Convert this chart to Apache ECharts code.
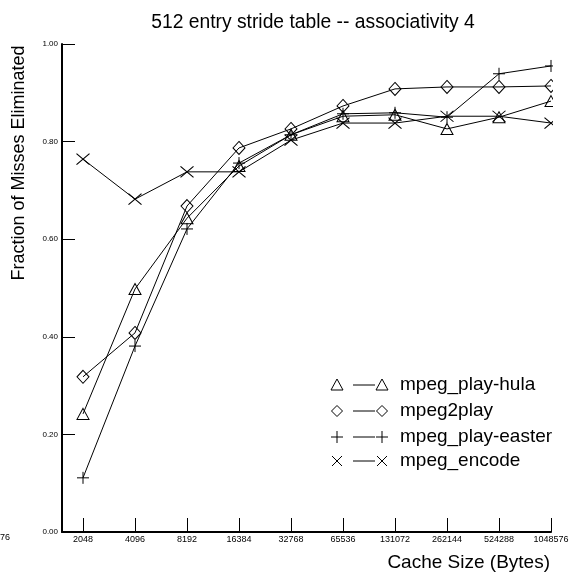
<!DOCTYPE html>
<html><head><meta charset="utf-8">
<script src="https://cdn.jsdelivr.net/npm/echarts@6/dist/echarts.min.js"></script>
<style>html,body{margin:0;padding:0;background:#fff}#c{width:573px;height:575px}</style>
</head><body><div id="c"></div>
<script>
const categories = ['2048','4096','8192','16384','32768','65536','131072','262144','524288','1048576'];
const seriesNames = ['mpeg_play-hula','mpeg2play','mpeg_play-easter','mpeg_encode'];
const hula      = [0.242,0.498,0.643,0.750,0.814,0.852,0.855,0.826,0.850,0.883];
const mpeg2play = [0.318,0.408,0.668,0.787,0.826,0.873,0.908,0.912,0.912,0.914];
const easter    = [0.111,0.381,0.621,0.756,0.814,0.857,0.859,0.850,0.939,0.955];
const encode    = [0.764,0.682,0.738,0.738,0.803,0.838,0.838,0.852,0.852,0.838];
const yTicks = [0,0.2,0.4,0.6,0.8,1.0];

const FONT = 'Liberation Sans, Arial, sans-serif';
const symbols = [
  {symbol:'triangle', size:[12,11]},
  {symbol:'diamond', size:[12,13]},
  {symbol:'path://M0,6L12,6M6,0L6,12', size:[12,12]},
  {symbol:'path://M0,0L12,10M12,0L0,10', size:[13,11]}
];
const values = [hula, mpeg2play, easter, encode];
const idx = categories.map((c,i)=>i);

const series = values.map((vals,k)=>({
  name: seriesNames[k],
  type:'line',
  data: vals.map((v,i)=>[i,v]),
  symbol: symbols[k].symbol,
  symbolSize: symbols[k].size,
  showAllSymbol: true,
  lineStyle:{color:'#000', width:1},
  itemStyle:{color:'none', borderColor:'#000', borderWidth:1},
  emphasis:{disabled:true},
  animation:false,
  z: 3
}));

// legend drawn as graphic
const legendX = 337, legendYs = [385,411,437,461];
function legendShape(k, cx, cy){
  const st = {fill:'none', stroke:'#000', lineWidth:1};
  if(k===0) return {type:'polygon', shape:{points:[[cx-6,cy+5],[cx+6,cy+5],[cx,cy-6]]}, style:st};
  if(k===1) return {type:'polygon', shape:{points:[[cx-5.5,cy],[cx,cy-5.5],[cx+5.5,cy],[cx,cy+5.5]]}, style:st};
  if(k===2) return {type:'group', children:[
    {type:'line', shape:{x1:cx-6,y1:cy,x2:cx+6,y2:cy}, style:st},
    {type:'line', shape:{x1:cx,y1:cy-6,x2:cx,y2:cy+6}, style:st}]};
  return {type:'group', children:[
    {type:'line', shape:{x1:cx-5,y1:cy-5,x2:cx+5,y2:cy+5}, style:st},
    {type:'line', shape:{x1:cx+5,y1:cy-5,x2:cx-5,y2:cy+5}, style:st}]};
}
const graphics = [];
// clip the symbols at the right edge of the plot, as in the reference
graphics.push({type:'rect', shape:{x:553, y:30, width:20, height:499}, style:{fill:'#fff'}, z:100});
seriesNames.forEach((n,k)=>{
  const y = legendYs[k];
  graphics.push(legendShape(k, legendX, y));
  graphics.push({type:'line', shape:{x1:legendX+16,y1:y,x2:legendX+38,y2:y}, style:{stroke:'#000',lineWidth:1}});
  graphics.push(legendShape(k, legendX+45, y));
  graphics.push({type:'text', x:legendX+63, y:y, style:{text:n, font:'19px '+FONT, fill:'#000', verticalAlign:'middle', textAlign:'left'}});
});
graphics.push({type:'text', x:10, y:538, style:{text:'1048576', font:'9px '+FONT, fill:'#000', textAlign:'right', verticalAlign:'middle'}});
graphics.push({type:'text', x:19, y:163, rotation:Math.PI/2, style:{text:'Fraction of Misses Eliminated', font:'18px '+FONT, fill:'#000', textAlign:'center', verticalAlign:'middle'}});
graphics.push({type:'text', x:550, y:563, style:{text:'Cache Size (Bytes)', font:'19px '+FONT, fill:'#000', textAlign:'right', verticalAlign:'middle'}});

const chart = echarts.init(document.getElementById('c'), null, {renderer:'canvas'});
chart.setOption({
  backgroundColor:'#fff',
  animation:false,
  title:{text:'512 entry stride table -- associativity 4', left:308, top:8, textAlign:'center',
    textStyle:{fontFamily:FONT, fontSize:19.3, fontWeight:'normal', color:'#000'}},
  grid:{left:62, right:22, top:44, bottom:43, containLabel:false},
  xAxis:{
    type:'value', min:-21/52, max:9,
    axisLine:{onZero:false, lineStyle:{color:'#000', width:2}},
    axisTick:{inside:true, length:14, customValues: idx, lineStyle:{color:'#000', width:1}},
    axisLabel:{customValues: idx, formatter:(v)=>categories[Math.round(v)], fontFamily:FONT, fontSize:9, color:'#000', margin:3},
    splitLine:{show:false}
  },
  yAxis:{
    type:'value', min:0, max:1, interval:0.2,
    axisLine:{show:true, onZero:false, lineStyle:{color:'#000', width:2}},
    axisTick:{show:true, inside:true, length:13, lineStyle:{color:'#000', width:1}},
    axisLabel:{formatter:(v)=>v.toFixed(2), fontFamily:FONT, fontSize:8, color:'#000', margin:4},
    splitLine:{show:false}
  },
  graphic: graphics,
  series: series
});
</script></body></html>
